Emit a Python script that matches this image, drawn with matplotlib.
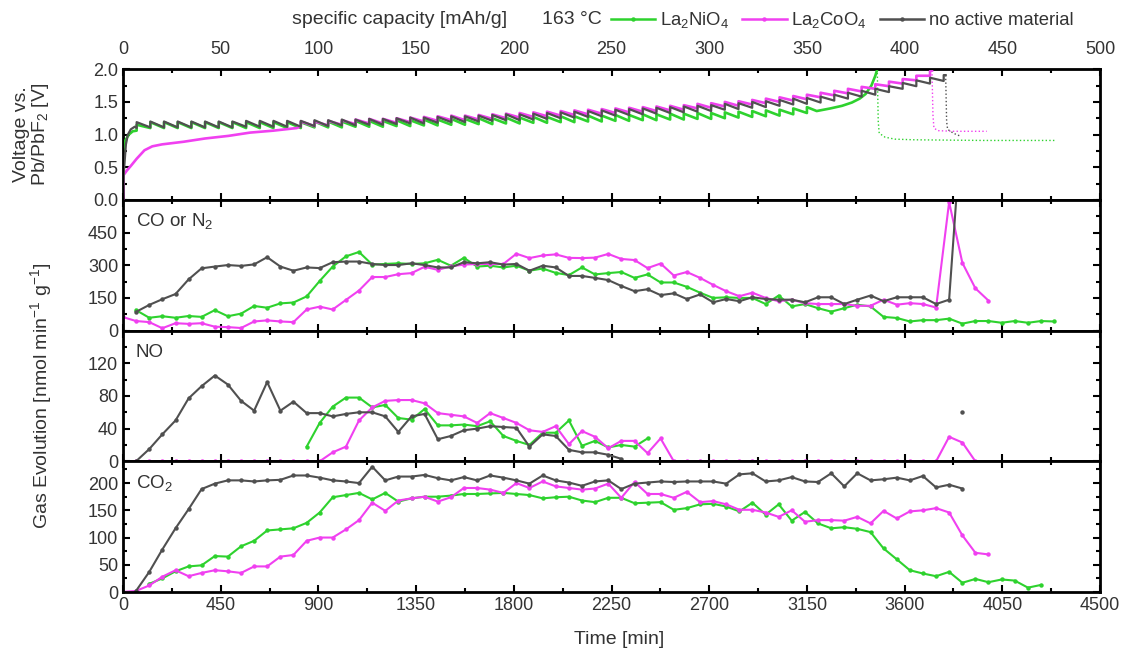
import numpy as np
import matplotlib
matplotlib.use('Agg')
import matplotlib.pyplot as plt
from matplotlib.ticker import MultipleLocator
from matplotlib.lines import Line2D

plt.rcParams['font.family'] = ['Liberation Sans', 'DejaVu Sans']
plt.rcParams['mathtext.fontset'] = 'custom'
plt.rcParams['mathtext.rm'] = 'Liberation Sans'

GREEN = '#2ed22e'
PINK = '#f040f0'
GREY = '#505050'
TXT = '#333333'

# ---- gas evolution data (nmol min^-1 g^-1), sampled about every hour ----
t_gas = [0, 60, 121, 181, 242, 302, 362, 423, 483, 544, 604, 664, 725, 785, 846, 906,
         966, 1027, 1087, 1148, 1208, 1268, 1329, 1389, 1450, 1510, 1570, 1631, 1691,
         1752, 1812, 1872, 1933, 1993, 2054, 2114, 2174, 2235, 2295, 2356, 2416, 2476,
         2537, 2597, 2658, 2718, 2778, 2839, 2899, 2960, 3020, 3080, 3141, 3201, 3262,
         3322, 3382, 3443, 3503, 3564, 3624, 3684, 3745, 3805, 3866, 3926, 3986, 4047,
         4107, 4168, 4228, 4288]
N = None

co_ni = [N, 94, 59, 66, 59, 67, 63, 94, 66, 78, 113, 105, 125, 129, 157, 228, 294, 341, 361,
         303, 306, 309, 306, 309, 325, 298, 334, 294, 298, 290, 298,
         275, 285, 265, 255, 290,
         258, 264, 269, 242, 258, 221, 221, 201, 174, 150, 153, 150, 150, 122, 161, 111, 122,
         103, 87, 103, 119, 111, 63, 58,
         42, 48, 48, 55, 32, 44, 44, 36, 44, 36, 44, 42]
co_co = [62, 44, 39, 11, 34, 31, 34, 18, 16, 12, 42, 47, 42, 39, 97, 110, 97, 141, 184, 246,
         246, 259, 264, 293, 279, 295, 303, 306, 306, 306, 353, 333, 345, 350, 334, 333, 335,
         352, 329, 324, 287, 308, 253, 269, 242, 210, 181, 158, 174, 150, 135, 142, 126, 122,
         122, 122, 114, 114, 142, 119, 126, 122, 106, 590, 311, 194, 138, N, N, N, N, N]
co_none = [N, 86, 118, 144, 168, 235, 286, 294, 301, 297, 304, 337, 294, 275, 290, 287, 314,
           317, 317, 306, 301, 301, 309, 301, 290, 290, 314, 309, 314, 303, 306, 275, 298, 290,
           251, 251, 242,
           232, 205, 181, 190, 163, 171, 145, 166, 130, 145, 135, 153, 145, 142, 142, 130, 153,
           153, 122, 142, 161, 135, 153, 153, 153, 122, 142, 1000, N, N, N, N, N, N, N]

no_ni = [N] * 14 + [18, 47, 67, 78, 78, 66, 69, 53, 51, 64, 44, 44, 45, 43, 49, 31, 25, 20, 35,
                    35, 50, 19, 25, 17, 20, 18, 28] + [N] * 31
no_co = [0] * 16 + [11, 18, 50, 66, 74, 75, 75, 71, 59, 57, 55, 47, 59, 53, 47, 38, 36, 43, 21,
                    37, 30, 16, 25, 25, 10, 28] + [0] * 21 + [30, 23, 0] + [N] * 6
no_none = [N, 0, 15, 33, 50, 77, 92, 105, 94, 74, 62, 97, 62, 73, 59, 59, 55, 58, 60, 60, 55, 36,
           55, 58, 27, 31, 38, 40, 43, 42, 41, 18, 33, 31, 14, 11, 11, 8, 3] + [N] * 25 + [60] + [N] * 7

co2_ni = [N, N, 15, 25, 38, 47, 49, 66, 65, 84, 94, 113, 115, 117, 127, 146, 174, 178, 182,
          170, 182, 166, 172, 175, 175, 177, 180, 180, 181, 182, 180, 178, 172, 174, 175, 168,
          165, 173, 173, 163, 164, 165, 151, 154, 161, 162, 157, 148, 164, 142, 161, 131, 147,
          126, 117, 119, 116, 110, 80, 60, 40, 34, 29, 37, 17, 24, 18, 23, 21, 8, 13, N]
co2_co = [0, 2, 12, 28, 40, 29, 35, 40, 38, 35, 47, 47, 65, 68, 94, 100, 100, 115, 132, 164,
          149, 168, 172, 175, 166, 174, 191, 191, 188, 182, 200, 191, 203, 194, 191, 188,
          190, 199, 173, 202, 180, 180, 173, 184, 165, 167, 161, 151, 151, 146, 138, 150, 129,
          132, 132, 131, 138, 126, 149, 135, 148, 150, 154, 146, 104, 72, 69, N, N, N, N, N]
co2_none = [N, 2, 37, 78, 117, 152, 189, 199, 205, 205, 203, 205, 206, 214, 214, 210, 205, 203,
            200, 230, 205, 212, 212, 215, 209, 205, 211, 205, 214, 210, 205, 199, 214, 205, 201,
            195, 203, 205, 189, 199, 201, 203, 202, 203, 203, 203, 199, 216, 218, 203, 205, 211,
            203, 202, 218, 194, 218, 205, 207, 210, 205, 213, 192, 197, 190, N, N, N, N, N, N, N]

# ---- voltage profiles vs specific capacity (mAh/g) ----
pulse_cap = [7, 14, 21, 28, 35, 42, 49, 56, 63, 70, 77, 84, 91, 98, 105, 112, 119, 126, 133,
             140, 147, 154, 161, 168, 175, 182, 189, 196, 203, 210, 217, 224, 231, 238, 245,
             252, 259, 266, 273, 280, 287, 294, 301, 308, 315, 322, 329, 336, 343, 350, 357,
             364, 371, 378, 385, 392, 399, 406, 413, 420]
none_lo = [1.10, 1.11, 1.11, 1.11, 1.11, 1.11, 1.11, 1.11, 1.12, 1.12, 1.12, 1.12, 1.12, 1.13,
           1.13, 1.14, 1.14, 1.15, 1.15, 1.16, 1.17, 1.17, 1.18, 1.19, 1.19, 1.20, 1.21, 1.22,
           1.22, 1.23, 1.24, 1.25, 1.26, 1.27, 1.28, 1.29, 1.30, 1.31, 1.32, 1.33, 1.34, 1.35,
           1.36, 1.38, 1.39, 1.41, 1.42, 1.44, 1.46, 1.47, 1.49, 1.52, 1.55, 1.58, 1.61, 1.65,
           1.70, 1.74, 1.78, 1.82]
ni_lo = [1.06, 1.10, 1.10, 1.10, 1.10, 1.10, 1.10, 1.10, 1.10, 1.10, 1.10, 1.10, 1.10, 1.11,
         1.11, 1.11, 1.12, 1.12, 1.12, 1.13, 1.13, 1.14, 1.14, 1.15, 1.15, 1.16, 1.16, 1.17,
         1.17, 1.18, 1.18, 1.19, 1.19, 1.20, 1.20, 1.21, 1.21, 1.22, 1.22, 1.23, 1.23, 1.24,
         1.24, 1.25, 1.26, 1.27, 1.28, 1.29, 1.31, 1.33]
co_lo = [1.13, 1.13, 1.14, 1.15, 1.16, 1.17, 1.17, 1.18, 1.19, 1.20, 1.21, 1.22, 1.22, 1.23,
         1.24, 1.25, 1.26, 1.27, 1.28, 1.29, 1.30, 1.31, 1.32, 1.33, 1.34, 1.35, 1.36, 1.37,
         1.38, 1.40, 1.41, 1.43, 1.44, 1.46, 1.48, 1.50, 1.52, 1.54, 1.57, 1.60, 1.63, 1.66,
         1.70, 1.74, 1.78, 1.83, 1.90]
spike_none, spike_ni, spike_co = 0.09, 0.09, 0.07

ni_head_c = [0, 1, 3, 5]
ni_head_v = [0.75, 0.90, 1.00, 1.05]
ni_end_c = [355, 362, 368, 373, 377, 380, 383, 385, 386]
ni_end_v = [1.36, 1.40, 1.44, 1.49, 1.55, 1.62, 1.75, 1.90, 2.00]
ni_rest_c = [386, 386.5, 387, 390, 395, 405, 440, 477]
ni_rest_v = [2.00, 1.20, 1.02, 0.96, 0.93, 0.92, 0.91, 0.91]

co_head_c = [0, 0.3, 2, 4, 7, 11, 15, 20, 31, 42, 54, 65, 77, 89]
co_head_v = [0.0, 0.38, 0.45, 0.52, 0.63, 0.76, 0.82, 0.85, 0.89, 0.94, 0.98, 1.03, 1.06, 1.10]
co_end_c = [414]
co_end_v = [1.98]
co_rest_c = [414, 414.5, 415, 417, 425, 442]
co_rest_v = [1.98, 1.30, 1.10, 1.06, 1.05, 1.05]

none_head_c = [0, 0.5, 1.5, 2.5, 4, 6]
none_head_v = [0.0, 0.45, 0.85, 1.00, 1.08, 1.12]
none_end_c = [421]
none_end_v = [1.91]
none_rest_c = [421, 421.5, 422, 425, 429]
none_rest_v = [1.91, 1.20, 1.08, 1.02, 0.97]


def sawtooth(head_c, head_v, caps, lows, spike, end_c, end_v):
    xs, ys = list(head_c), list(head_v)
    for c, lo in zip(caps, lows):
        xs += [c, c]
        ys += [lo, lo + spike]
    return xs + list(end_c), ys + list(end_v)


def arr(v):
    return np.array([np.nan if x is None else x for x in v], dtype=float)


fig = plt.figure(figsize=(11.43, 6.53), dpi=100)
axes = fig.subplots(4, 1, sharex=True, gridspec_kw=dict(hspace=0))
fig.subplots_adjust(left=0.1076, right=0.9624, top=0.894, bottom=0.0934)

for ax in axes:
    ax.set_xlim(0, 4500)
    ax.xaxis.set_major_locator(MultipleLocator(450))
    ax.xaxis.set_minor_locator(MultipleLocator(225))
    ax.tick_params(which='both', direction='in', top=True, right=True, width=1.5,
                   labelsize=13, labelcolor=TXT)
    ax.tick_params(which='major', length=5)
    ax.tick_params(which='minor', length=3)
    for s in ax.spines.values():
        s.set_linewidth(2)

# voltage panel
ax0 = axes[0]
ax0.tick_params(axis='x', top=False)
ax0.set_ylim(0, 2.0)
ax0.set_yticks([0, 0.5, 1.0, 1.5, 2.0])
ax0.set_yticklabels(['0.0', '0.5', '1.0', '1.5', '2.0'])
ax0.yaxis.set_minor_locator(MultipleLocator(0.25))
axc = ax0.twiny()
axc.set_xlim(0, 500)
axc.xaxis.set_major_locator(MultipleLocator(50))
axc.xaxis.set_minor_locator(MultipleLocator(25))
axc.tick_params(which='both', direction='in', width=1.5, labelsize=13, labelcolor=TXT, pad=8)
axc.tick_params(which='major', length=5)
axc.tick_params(which='minor', length=3)

x, y = sawtooth(ni_head_c, ni_head_v, pulse_cap[:50], ni_lo, spike_ni, ni_end_c, ni_end_v)
axc.plot(x, y, color=GREEN, lw=1.9)
axc.plot(ni_rest_c, ni_rest_v, color=GREEN, lw=1.0, ls=':')
x, y = sawtooth(co_head_c, co_head_v, pulse_cap[12:59], co_lo, spike_co, co_end_c, co_end_v)
axc.plot(x, y, color=PINK, lw=1.9)
axc.plot(co_rest_c, co_rest_v, color=PINK, lw=1.0, ls=':')
x, y = sawtooth(none_head_c, none_head_v, pulse_cap, none_lo, spike_none, none_end_c, none_end_v)
axc.plot(x, y, color=GREY, lw=1.6)
axc.plot(none_rest_c, none_rest_v, color=GREY, lw=1.0, ls=':')

# gas panels
t = np.array(t_gas, dtype=float)
panels = [
    (axes[1], co_ni, co_co, co_none, 600, [0, 150, 300, 450], 75, 'CO or N$_\\mathregular{2}$'),
    (axes[2], no_ni, no_co, no_none, 160, [0, 40, 80, 120], 20, 'NO'),
    (axes[3], co2_ni, co2_co, co2_none, 240, [0, 50, 100, 150, 200], 25, 'CO$_\\mathregular{2}$'),
]
for ax, s_ni, s_co, s_none, ymax, yt, ymin_step, name in panels:
    for s, col in ((s_ni, GREEN), (s_co, PINK), (s_none, GREY)):
        ax.plot(t, arr(s), color=col, lw=1.5, marker='o', ms=3.2, mew=0)
    ax.set_ylim(0, ymax)
    ax.set_yticks(yt)
    ax.yaxis.set_minor_locator(MultipleLocator(ymin_step))
    ax.text(0.013, 0.83, name, transform=ax.transAxes, fontsize=13.5, color=TXT, va='center')

fig.text(619 / 1143, 1 - 640 / 653, 'Time [min]', ha='center', va='center', fontsize=14,
         color=TXT)

fig.text(32 / 1143, 1 - 134 / 653, 'Voltage vs.\nPb/PbF$_\\mathregular{2}$ [V]', rotation=90,
         ha='center', va='center', fontsize=14, color=TXT, linespacing=1.0)
fig.text(42 / 1143, 1 - 396 / 653, 'Gas Evolution [nmol min$^\\mathregular{-1}$ g$^\\mathregular{-1}$]',
         rotation=90, ha='center', va='center', fontsize=14, color=TXT)

fig.text(400 / 1143, 1 - 20 / 653, 'specific capacity [mAh/g]', ha='center', va='center',
         fontsize=14, color=TXT)
fig.text(572 / 1143, 1 - 20 / 653, '163 °C', ha='center', va='center', fontsize=14, color=TXT)
handles = [Line2D([], [], color=c, lw=1.8, marker='o', ms=3.2, mew=0) for c in (GREEN, PINK, GREY)]
labels = ['La$_\\mathregular{2}$NiO$_\\mathregular{4}$', 'La$_\\mathregular{2}$CoO$_\\mathregular{4}$',
          'no active material']
leg = fig.legend(handles, labels, loc='center left', bbox_to_anchor=(611 / 1143, 1 - 20 / 653),
                 ncol=3, frameon=False, handlelength=2.4, columnspacing=0.7, handletextpad=0.25,
                 fontsize=13.3, borderaxespad=0, borderpad=0)
for tx in leg.get_texts():
    tx.set_color(TXT)

fig.savefig('out.png', dpi=100)
